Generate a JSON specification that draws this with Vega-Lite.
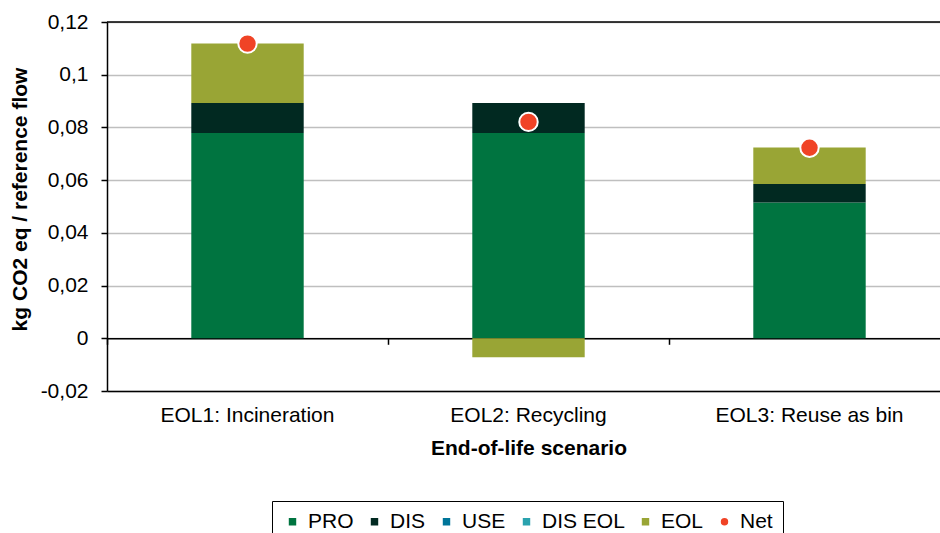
{
  "$schema": "https://vega.github.io/schema/vega-lite/v6.json",
  "autosize": {"type": "none"},
  "width": 833,
  "height": 369,
  "padding": {"left": 107, "top": 22, "right": 0, "bottom": 142},
  "background": "white",
  "config": {
    "view": {"stroke": null},
    "font": "Liberation Sans",
    "axis": {"labelFont": "Liberation Sans", "titleFont": "Liberation Sans", "labelColor": "#000", "titleColor": "#000", "labelFontSize": 21, "titleFontSize": 21, "titleFontWeight": "bold", "labelLimit": 400},
    "axisY": {"domainColor": "#000", "domainWidth": 1.5, "tickColor": "#000", "tickWidth": 1.5, "tickSize": 6, "labelPadding": 13, "gridColor": "#BFBFBF", "gridWidth": 1.5},
    "legend": {"orient": "none", "legendX": 165, "legendY": 479, "direction": "horizontal", "strokeColor": "#000", "strokeWidth": 1, "padding": 10, "symbolSize": 80, "labelFont": "Liberation Sans", "labelFontSize": 21, "labelColor": "#000", "columnPadding": 10, "labelOffset": 5, "title": null}
  },
  "datasets": {
    "parts": [
      {"scenario": "EOL1: Incineration", "component": "PRO", "value": 0.0779},
      {"scenario": "EOL1: Incineration", "component": "DIS", "value": 0.0114},
      {"scenario": "EOL1: Incineration", "component": "EOL", "value": 0.0225},
      {"scenario": "EOL2: Recycling", "component": "PRO", "value": 0.0779},
      {"scenario": "EOL2: Recycling", "component": "DIS", "value": 0.0114},
      {"scenario": "EOL2: Recycling", "component": "EOL", "value": -0.0072},
      {"scenario": "EOL3: Reuse as bin", "component": "PRO", "value": 0.0515},
      {"scenario": "EOL3: Reuse as bin", "component": "DIS", "value": 0.0070},
      {"scenario": "EOL3: Reuse as bin", "component": "EOL", "value": 0.0139}
    ],
    "net": [
      {"scenario": "EOL1: Incineration", "component": "Net", "value": 0.1118},
      {"scenario": "EOL2: Recycling", "component": "Net", "value": 0.0821},
      {"scenario": "EOL3: Reuse as bin", "component": "Net", "value": 0.0723}
    ],
    "top": [{"v": 0.12}]
  },
  "resolve": {"axis": {"x": "independent"}},
  "layer": [
    {
      "data": {"name": "parts"},
      "transform": [{"calculate": "indexof(['PRO','DIS','USE','DIS EOL','EOL'], datum.component)", "as": "stackOrder"}],
      "mark": {"type": "bar"},
      "encoding": {
        "x": {"field": "scenario", "type": "nominal", "sort": null,
          "scale": {"range": [0, 843], "paddingInner": 0.6, "paddingOuter": 0.3},
          "axis": {"orient": "bottom", "offset": -52.71, "bandPosition": -0.75, "labels": false, "title": null, "grid": false, "domainColor": "#000", "domainWidth": 1.5, "tickColor": "#000", "tickWidth": 1.5, "tickSize": 6}},
        "y": {"field": "value", "type": "quantitative", "stack": "zero",
          "scale": {"domain": [-0.02, 0.12], "nice": false, "zero": false},
          "axis": {"values": [-0.02, 0, 0.02, 0.04, 0.06, 0.08, 0.1, 0.12], "labelExpr": "replace('' + datum.value, '.', ',')", "titleX": -87, "titleY": 177, "titleBaseline": "middle", "titleAngle": -90},
          "title": "kg CO2 eq / reference flow"},
        "order": {"field": "stackOrder", "type": "quantitative"},
        "color": {"field": "component", "type": "nominal",
          "scale": {"domain": ["PRO", "DIS", "USE", "DIS EOL", "EOL", "Net"], "range": ["#007440", "#012921", "#007599", "#2AA2AE", "#99A535", "#F04326"]},
          "legend": {"title": null}}
      }
    },
    {
      "data": {"name": "net"},
      "mark": {"type": "point", "filled": true, "opacity": 1, "size": 340, "stroke": "white", "strokeWidth": 2},
      "encoding": {
        "x": {"field": "scenario", "type": "nominal", "sort": null,
          "axis": {"orient": "bottom", "domain": true, "domainColor": "#000", "domainWidth": 1.5, "ticks": false, "labelPadding": 13, "labelAngle": 0, "grid": false, "titlePadding": 12, "title": "End-of-life scenario"}},
        "y": {"field": "value", "type": "quantitative", "title": "kg CO2 eq / reference flow"},
        "color": {"field": "component", "type": "nominal", "legend": {"title": null}},
        "shape": {"field": "component", "type": "nominal",
          "scale": {"domain": ["PRO", "DIS", "USE", "DIS EOL", "EOL", "Net"], "range": ["square", "square", "square", "square", "square", "circle"]},
          "legend": {"title": null}}
      }
    },
    {
      "data": {"name": "top"},
      "mark": {"type": "rule", "color": "#000", "strokeWidth": 1.5},
      "encoding": {
        "y": {"field": "v", "type": "quantitative", "title": "kg CO2 eq / reference flow"}
      }
    }
  ]
}
